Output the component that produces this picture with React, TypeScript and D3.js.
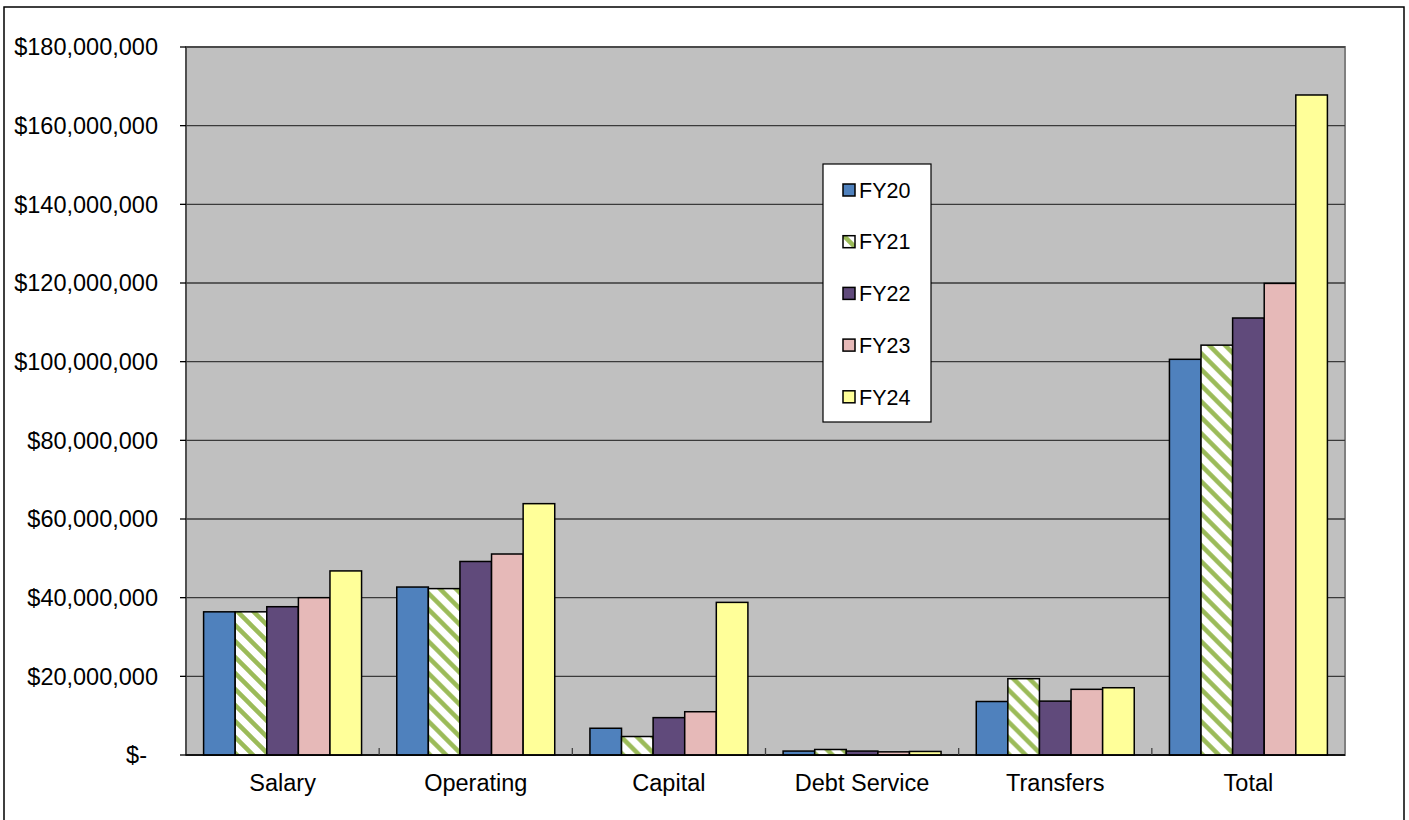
import React from "react";
import * as d3 from "d3";

const categories = ["Salary", "Operating", "Capital", "Debt Service", "Transfers", "Total"];
const seriesNames = ["FY20", "FY21", "FY22", "FY23", "FY24"];
const fy20 = [36.4, 42.7, 6.8, 1.0, 13.6, 100.6];
const fy21 = [36.4, 42.3, 4.7, 1.4, 19.4, 104.2];
const fy22 = [37.7, 49.2, 9.5, 1.0, 13.7, 111.1];
const fy23 = [40.0, 51.1, 11.0, 0.8, 16.7, 119.9];
const fy24 = [46.8, 63.9, 38.8, 0.9, 17.1, 167.8];
const seriesValues = [fy20, fy21, fy22, fy23, fy24];
const yTicks = [0, 20, 40, 60, 80, 100, 120, 140, 160, 180];

const W = 1409;
const H = 820;
const plot = { left: 186, right: 1345, top: 47, bottom: 755 };
const FONT = "'Liberation Sans', Arial, Helvetica, sans-serif";

const fills = ["#4F81BD", "url(#hatch)", "#604A7B", "#E6B9B8", "#FFFF99"];

export default function App() {
  const x0 = d3.scaleBand<string>().domain(categories).range([plot.left, plot.right]).padding(0);
  const x1 = d3
    .scaleBand<string>()
    .domain(seriesNames)
    .range([0, x0.bandwidth()])
    .paddingInner(0)
    .paddingOuter(0.557);
  const y = d3.scaleLinear().domain([0, 180]).range([plot.bottom, plot.top]);
  const fmt = d3.format(",");
  const tickLabel = (v: number) => (v === 0 ? "$-" : "$" + fmt(v * 1e6));

  return (
    <svg
      width={W}
      height={H}
      style={{ position: "absolute", left: 0, top: 0, background: "#fff" }}
      fontFamily={FONT}
    >
      <defs>
        <pattern id="hatch" width="16" height="16" patternUnits="userSpaceOnUse">
          <rect width="16" height="16" fill="#ffffff" />
          <path d="M-4,-4 L20,20 M-4,12 L4,20 M12,-4 L20,4" stroke="#9BBB59" strokeWidth="4.5" />
        </pattern>
      </defs>
      {/* outer chart border */}
      <rect x={4} y={7} width={1400} height={830} fill="#fff" stroke="#000" strokeWidth={1.5} />
      {/* plot area */}
      <rect
        x={plot.left}
        y={plot.top}
        width={plot.right - plot.left}
        height={plot.bottom - plot.top}
        fill="#C0C0C0"
        stroke="#808080"
        strokeWidth={2}
      />
      {/* gridlines */}
      {yTicks.map((t) => (
        <line key={"g" + t} x1={plot.left} x2={plot.right} y1={y(t)} y2={y(t)} stroke="#3a3a3a" strokeWidth={1.3} />
      ))}
      {/* bars */}
      {categories.map((c, ci) => (
        <g key={c} transform={`translate(${x0(c)},0)`}>
          {seriesNames.map((s, si) => {
            const v = seriesValues[si][ci];
            return (
              <rect
                key={s}
                x={x1(s)}
                y={y(v)}
                width={x1.bandwidth()}
                height={y(0) - y(v)}
                fill={fills[si]}
                stroke="#000"
                strokeWidth={1.5}
              />
            );
          })}
        </g>
      ))}
      {/* y axis */}
      <line x1={plot.left} x2={plot.left} y1={plot.top} y2={plot.bottom} stroke="#404040" strokeWidth={1.5} />
      {yTicks.map((t) => (
        <g key={"t" + t}>
          <line x1={plot.left - 6} x2={plot.left} y1={y(t)} y2={y(t)} stroke="#000" strokeWidth={1.3} />
          <text
            x={t === 0 ? 147 : 158}
            y={y(t)}
            dy="0.36em"
            textAnchor="end"
            fontSize={23.5}
            fill="#000"
          >
            {tickLabel(t)}
          </text>
        </g>
      ))}
      {/* x axis */}
      <line x1={plot.left} x2={plot.right} y1={plot.bottom} y2={plot.bottom} stroke="#000" strokeWidth={1.5} />
      {categories.map((c, ci) =>
        ci > 0 ? (
          <line
            key={"xt" + c}
            x1={x0(c)}
            x2={x0(c)}
            y1={plot.bottom}
            y2={plot.bottom - 7}
            stroke="#404040"
            strokeWidth={1.3}
          />
        ) : null
      )}
      {categories.map((c) => (
        <text
          key={"xl" + c}
          x={(x0(c) as number) + x0.bandwidth() / 2}
          y={783}
          dy="0.36em"
          textAnchor="middle"
          fontSize={23.5}
          fill="#000"
        >
          {c}
        </text>
      ))}
      {/* legend */}
      <rect x={823} y={164} width={108} height={258} fill="#fff" stroke="#000" strokeWidth={1.2} />
      {seriesNames.map((s, si) => {
        const cy = 190 + si * 51.7;
        return (
          <g key={"lg" + s}>
            <rect x={843} y={cy - 6} width={12} height={12} fill={fills[si]} stroke="#000" strokeWidth={1.5} />
            <text x={859} y={cy} dy="0.36em" fontSize={21.5} fill="#000">
              {s}
            </text>
          </g>
        );
      })}
    </svg>
  );
}
